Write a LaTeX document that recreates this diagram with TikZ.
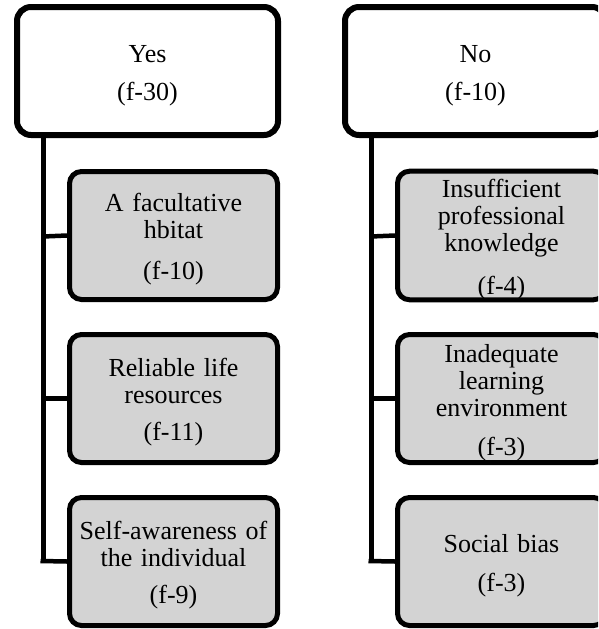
\documentclass[tikz,border=0pt]{standalone}
\usepackage{fontspec}
\setmainfont{Liberation Serif}
\newcommand{\toppad}{\rule{0pt}{26pt}}
\begin{document}
\begin{tikzpicture}[x=1pt,y=-1pt,
  parentbox/.style={draw=black, line width=6pt, fill=white, rounded corners=14pt,
    minimum width=261pt, minimum height=128pt, text width=250pt, inner sep=0pt, align=center,
    font=\fontsize{26}{27}\selectfont},
  childbox/.style={draw=black, line width=5pt, fill=boxgray, rounded corners=12pt,
    minimum width=208pt, minimum height=128pt, text width=204pt, inner sep=0pt, align=center,
    font=\fontsize{26}{27}\selectfont},
  trunk/.style={line width=5pt},
  branch/.style={line width=4.5pt}
]
\definecolor{boxgray}{RGB}{211,211,211}
\useasboundingbox (0,0) rectangle (598,629);
\clip (0,0) rectangle (598,629);
\fill[white] (0,0) rectangle (598,629);

% Left column
\node[parentbox] (yes) at (147.5,71) {\toppad Yes\\[11pt](f-30)};
\node[childbox] (y1) at (173.5,235.5) {\toppad A facultative\\hbitat\\[14pt](f-10)};
\node[childbox] (y2) at (173.5,398.5) {\toppad Reliable life\\resources\\[10pt](f-11)};
\node[childbox] (y3) at (173.5,561.5) {\toppad Self-awareness of\\the individual\\[10pt](f-9)};
\coordinate (yt) at (43,138);
\coordinate (yb) at (43,563);
\draw[trunk] (yt) -- (yb);
\draw[branch] (43,236.5) -- (y1.west);
\draw[branch] (43,398.5) -- (y2.west);
\draw[branch] (40.5,561) -- (y3.west);

% Right column
\node[parentbox] (no) at (475.5,71) {\toppad No\\[11pt](f-10)};
\node[childbox] (n1) at (501.5,235.5) {\toppad Insufficient\\professional\\knowledge\\[16pt](f-4)};
\node[childbox] (n2) at (501.5,398.5) {\toppad Inadequate\\learning\\environment\\[12pt](f-3)};
\node[childbox] (n3) at (501.5,561.5) {\toppad Social bias\\[12pt](f-3)};
\coordinate (nt) at (371,138);
\coordinate (nb) at (371,563);
\draw[trunk] (nt) -- (nb);
\draw[branch] (371,236.5) -- (n1.west);
\draw[branch] (371,398.5) -- (n2.west);
\draw[branch] (368.5,561) -- (n3.west);
\end{tikzpicture}
\end{document}
